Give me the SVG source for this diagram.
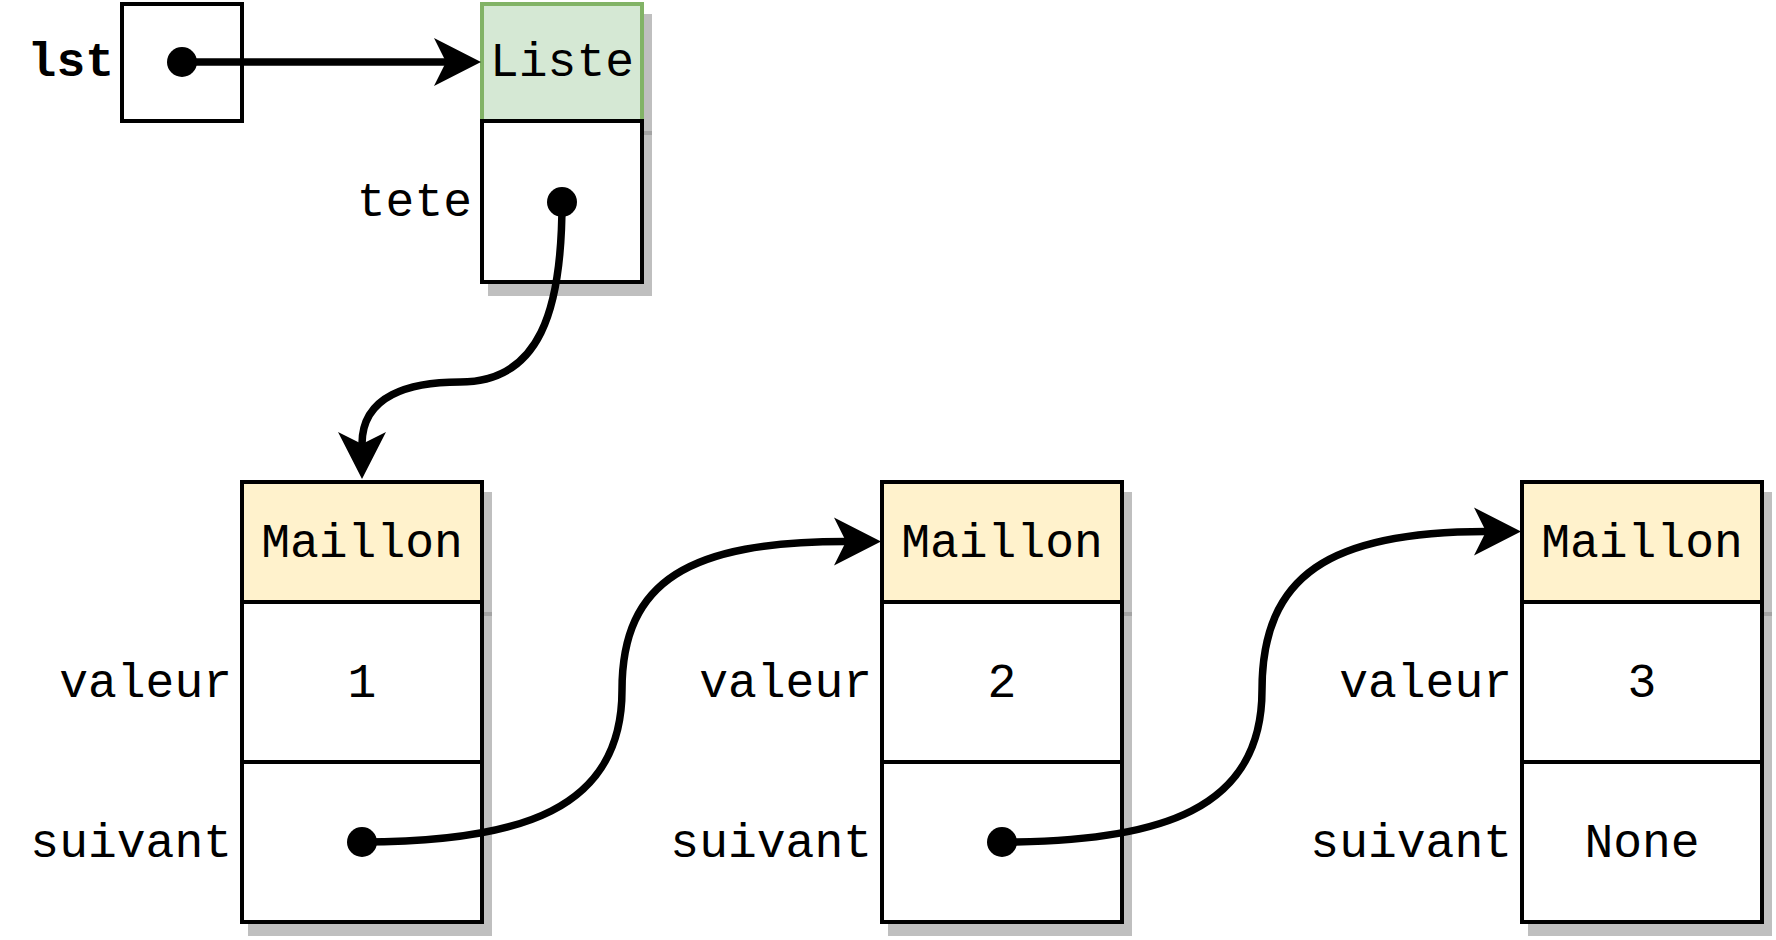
<svg xmlns="http://www.w3.org/2000/svg" width="1776" height="940" viewBox="0 0 1776 940">
  <style>
    .box { fill: #ffffff; stroke: #000000; stroke-width: 4; }
    .hdrY { fill: #fff2cc; stroke: #000000; stroke-width: 4; }
    .hdrG { fill: #d5e8d4; stroke: #82b366; stroke-width: 4; }
    .shadow { fill: #bfbfbf; stroke: #bfbfbf; stroke-width: 4; }
    .shline { stroke: #a3a3a3; stroke-width: 4; }
    .t { font-family: "Liberation Mono", "Courier New", monospace; font-size: 48px; fill: #000000; }
    .c { text-anchor: middle; }
    .r { text-anchor: end; }
    .b { font-weight: bold; }
    .dot { fill: #000000; }
    .edge { fill: none; stroke: #000000; stroke-width: 7.5; marker-end: url(#ah); }
  </style>
  <defs>
    <marker id="ah" markerUnits="userSpaceOnUse" markerWidth="47" markerHeight="48" viewBox="-12 -24 47 48" refX="0" refY="0" orient="auto" overflow="visible">
      <path d="M-12,-24 L35,0 L-12,24 L0,0 Z" fill="#000000"/>
    </marker>
  </defs>
  <rect width="1776" height="940" fill="#ffffff"/>

  <g id="lst">
    <text class="t r b" x="114" y="76">lst</text>
    <rect class="box" x="122" y="4" width="120" height="117"/>
    <circle class="dot" cx="182" cy="62" r="15"/>
  </g>

  <g id="liste">
    <rect class="shadow" x="490" y="16" width="160" height="278"/>
    <line class="shline" x1="644" y1="133" x2="652" y2="133"/>
    <rect class="hdrG" x="482" y="4" width="160" height="117"/>
    <text class="t c" x="562" y="76">Liste</text>
    <rect class="box" x="482" y="121" width="160" height="161"/>
    <text class="t r" x="472" y="216">tete</text>
    <circle class="dot" cx="562" cy="202" r="15"/>
  </g>

  <g id="maillon1">
    <rect class="shadow" x="250" y="494" width="240" height="440"/>
    <line class="shline" x1="484" y1="614" x2="492" y2="614"/>
    <rect class="hdrY" x="242" y="482" width="240" height="120"/>
    <text class="t c" x="362" y="557">Maillon</text>
    <rect class="box" x="242" y="602" width="240" height="160"/>
    <rect class="box" x="242" y="762" width="240" height="160"/>
    <text class="t c" x="362" y="697">1</text>
    <text class="t r" x="232" y="697">valeur</text>
    <text class="t r" x="232" y="857">suivant</text>
    <circle class="dot" cx="362" cy="842" r="15"/>
  </g>

  <g id="maillon2">
    <rect class="shadow" x="890" y="494" width="240" height="440"/>
    <line class="shline" x1="1124" y1="614" x2="1132" y2="614"/>
    <rect class="hdrY" x="882" y="482" width="240" height="120"/>
    <text class="t c" x="1002" y="557">Maillon</text>
    <rect class="box" x="882" y="602" width="240" height="160"/>
    <rect class="box" x="882" y="762" width="240" height="160"/>
    <text class="t c" x="1002" y="697">2</text>
    <text class="t r" x="872" y="697">valeur</text>
    <text class="t r" x="872" y="857">suivant</text>
    <circle class="dot" cx="1002" cy="842" r="15"/>
  </g>

  <g id="maillon3">
    <rect class="shadow" x="1530" y="494" width="240" height="440"/>
    <line class="shline" x1="1764" y1="614" x2="1772" y2="614"/>
    <rect class="hdrY" x="1522" y="482" width="240" height="120"/>
    <text class="t c" x="1642" y="557">Maillon</text>
    <rect class="box" x="1522" y="602" width="240" height="160"/>
    <rect class="box" x="1522" y="762" width="240" height="160"/>
    <text class="t c" x="1642" y="697">3</text>
    <text class="t c" x="1642" y="857">None</text>
    <text class="t r" x="1512" y="697">valeur</text>
    <text class="t r" x="1512" y="857">suivant</text>
  </g>

  <g id="connectors">
    <path class="edge" d="M182,62 L446,62"/>
    <path class="edge" d="M562,202 C562,310 540,382 460,382 C410,382 362,395 362,444"/>
    <path class="edge" d="M362,842 C520,842 622,810 622,690 C622,580 690,541.5 846,541.5"/>
    <path class="edge" d="M1002,842 C1160,842 1262,810 1262,690 C1262,575 1330,531.5 1486,531.5"/>
  </g>
</svg>
